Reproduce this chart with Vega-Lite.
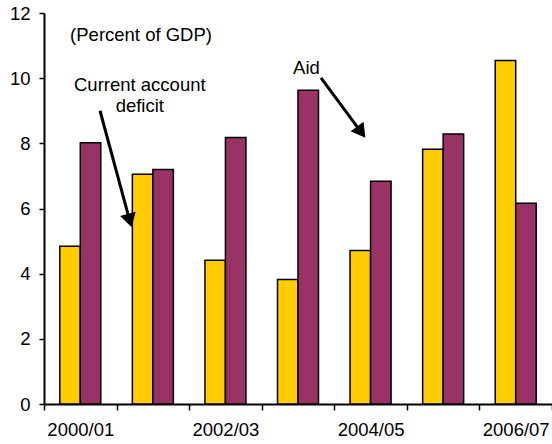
{
  "$schema": "https://vega.github.io/schema/vega-lite/v6.json",
  "width": 508,
  "height": 391,
  "autosize": {"type": "none"},
  "padding": {"left": 44, "top": 13, "right": 0, "bottom": 40},
  "config": {
    "font": "Liberation Sans",
    "view": {"stroke": null},
    "axis": {"domainColor": "#000", "tickColor": "#000", "labelColor": "#000", "grid": false, "title": null, "labelFont": "Liberation Sans", "labelFontSize": 18.5}
  },
  "datasets": {
    "bars": [
      {"year": "2000/01", "series": "Current account deficit", "value": 4.84},
      {"year": "2000/01", "series": "Aid", "value": 8.02},
      {"year": "2001/02", "series": "Current account deficit", "value": 7.05},
      {"year": "2001/02", "series": "Aid", "value": 7.2},
      {"year": "2002/03", "series": "Current account deficit", "value": 4.41},
      {"year": "2002/03", "series": "Aid", "value": 8.18},
      {"year": "2003/04", "series": "Current account deficit", "value": 3.82},
      {"year": "2003/04", "series": "Aid", "value": 9.63},
      {"year": "2004/05", "series": "Current account deficit", "value": 4.71},
      {"year": "2004/05", "series": "Aid", "value": 6.84},
      {"year": "2005/06", "series": "Current account deficit", "value": 7.82},
      {"year": "2005/06", "series": "Aid", "value": 8.29},
      {"year": "2006/07", "series": "Current account deficit", "value": 10.54},
      {"year": "2006/07", "series": "Aid", "value": 6.16}
    ],
    "labels": [
      {"text": "(Percent of GDP)", "u": 1.337, "v": 11.33},
      {"text": "Current account", "u": 1.32, "v": 9.79},
      {"text": "deficit", "u": 1.32, "v": 9.15},
      {"text": "Aid", "u": 3.617, "v": 10.3}
    ],
    "arrows": [
      {"arrow": "deficit", "u": 0.772, "v": 9.0, "u2": 1.173, "v2": 5.7},
      {"arrow": "aid", "u": 3.817, "v": 10.006, "u2": 4.352, "v2": 8.4}
    ]
  },
  "layer": [
    {
      "data": {"name": "bars"},
      "mark": {"type": "bar", "stroke": "#000", "strokeWidth": 1.5},
      "encoding": {
        "x": {
          "field": "year", "type": "nominal",
          "scale": {"paddingInner": 0, "paddingOuter": 0},
          "axis": {
            "labelAngle": 0, "tickBand": "extent", "tickSize": 6, "tickWidth": 1.5, "domainWidth": 2,
            "labelPadding": 10,
            "labelExpr": "indexof(['2000/01','2002/03','2004/05','2006/07'], datum.value) >= 0 ? datum.value : ''"
          }
        },
        "xOffset": {
          "field": "series", "type": "nominal",
          "sort": ["Current account deficit", "Aid"],
          "scale": {"paddingInner": 0, "paddingOuter": 0.77}
        },
        "y": {
          "field": "value", "type": "quantitative",
          "scale": {"domain": [0, 12], "nice": false},
          "axis": {"values": [0, 2, 4, 6, 8, 10, 12], "tickSize": 5, "tickWidth": 1.5, "domainWidth": 2, "labelPadding": 9}
        },
        "color": {
          "field": "series", "type": "nominal",
          "scale": {"domain": ["Current account deficit", "Aid"], "range": ["#FFCC00", "#993366"]},
          "legend": null
        }
      }
    },
    {
      "mark": {"type": "rule", "color": "#000", "strokeWidth": 2},
      "encoding": {"y": {"datum": 12}}
    },
    {
      "data": {"name": "labels"},
      "mark": {"type": "text", "fontSize": 18.5, "font": "Liberation Sans", "color": "#000", "align": "center", "baseline": "middle"},
      "encoding": {
        "x": {"field": "u", "type": "quantitative", "scale": {"domain": [0, 7], "nice": false, "zero": false}, "axis": null},
        "y": {"field": "v", "type": "quantitative"},
        "text": {"field": "text"}
      }
    },
    {
      "data": {"name": "arrows"},
      "mark": {"type": "rule", "color": "#000", "strokeWidth": 3},
      "encoding": {
        "x": {"field": "u", "type": "quantitative", "scale": {"domain": [0, 7], "nice": false, "zero": false}, "axis": null},
        "y": {"field": "v", "type": "quantitative"},
        "x2": {"field": "u2"},
        "y2": {"field": "v2"}
      }
    },
    {
      "data": {"name": "arrows"},
      "transform": [{"filter": "datum.arrow === 'deficit'"}],
      "mark": {"type": "point", "shape": "triangle", "filled": true, "color": "#000", "size": 260, "angle": 164.5, "opacity": 1},
      "encoding": {
        "x": {"field": "u2", "type": "quantitative", "scale": {"domain": [0, 7], "nice": false, "zero": false}, "axis": null},
        "y": {"field": "v2", "type": "quantitative"}
      }
    },
    {
      "data": {"name": "arrows"},
      "transform": [{"filter": "datum.arrow === 'aid'"}],
      "mark": {"type": "point", "shape": "triangle", "filled": true, "color": "#000", "size": 260, "angle": 143.5, "opacity": 1},
      "encoding": {
        "x": {"field": "u2", "type": "quantitative", "scale": {"domain": [0, 7], "nice": false, "zero": false}, "axis": null},
        "y": {"field": "v2", "type": "quantitative"}
      }
    }
  ],
  "resolve": {"scale": {"x": "independent"}, "axis": {"x": "independent"}}
}
